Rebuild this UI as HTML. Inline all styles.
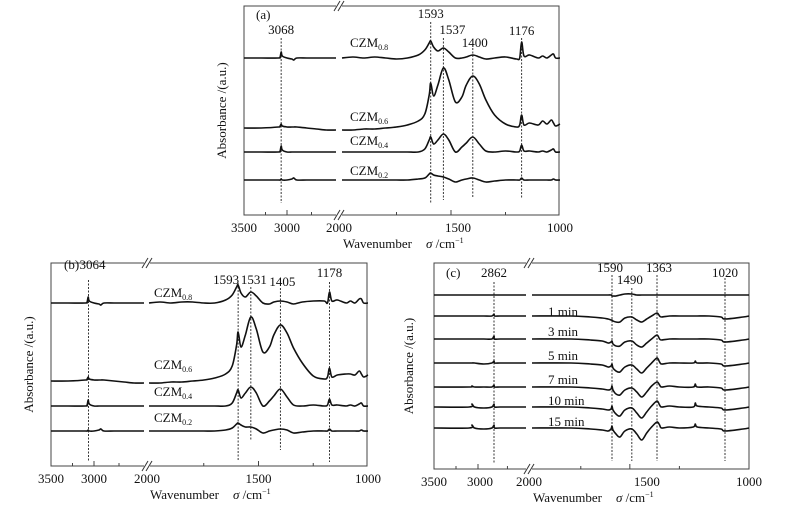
<!DOCTYPE html>
<html><head><meta charset="utf-8"><style>
html,body{margin:0;padding:0;background:#fff}
svg{display:block;font-family:"Liberation Serif",serif}
</style></head><body>
<svg id="fig" width="794" height="516" viewBox="0 0 794 516" xmlns="http://www.w3.org/2000/svg">
<rect width="794" height="516" fill="#fff"/>
</svg>
<script>
// ---------- data ----------
const gridR = [2000,1950,1900,1850,1800,1750,1700,1650,1620,1600,1593,1580,1560,1535,1510,1480,1450,1430,1400,1370,1340,1300,1250,1200,1185,1176,1165,1140,1100,1080,1060,1040,1030,1020,1000];
const gridL = [3500,3300,3100,3080,3068,3055,3000,2900,2862,2800,2600,2400,2200,2000];
const seriesNamesAB = ["0.8","0.6","0.4","0.2"];
const offsetsA = [157,85,63,35];
const a08 = [0,1,0,1,0,-1,0,3,8,15,17,11,7,10,6,0,0,1,3,1,-1,0,1,-1,0,16,2,3,0,2,0,3,4,0,0];
const a06 = [0,0,1,1,2,3,5,9,16,35,47,34,45,62,50,28,33,45,54,46,30,15,6,3,5,15,5,7,5,9,6,10,7,4,6];
const a04 = [0,0,0,0,0,0,0,0,3,12,15,8,12,18,12,0,5,9,15,8,1,0,1,0,1,7,1,1,0,1,0,2,3,0,0];
const a02 = [0,0,0,0,0,0,0,1,2,6,7,5,4,3,1,-2,0,1,2,0,-2,-1,0,0,0,2,0,0,0,0,0,0,1,0,0];
const a08L = [0,0,0,1,6,2,0,-1,-2,0,0,0,0,0];
const a06L = [2,2,3,4,6,4,3,3,3,3,2,1,0,0];
const a04L = [0,0,0,1,6,2,0,0,0,0,0,0,0,0];
const a02L = [0,0,0,0,1,0,0,1,2,0,0,0,0,0];
const peaksA = [3068,1593,1535,1400,1176];
const peakLabelsA = ["3068","1593","1537","1400","1176"];

const offsetsB = [163,83,60,35];
const b08 = [0,1,0,1,1,0,0,3,8,16,18,10,6,11,7,0,-1,1,2,1,-1,1,2,2,0,11,2,3,0,2,0,4,4,0,0];
const b06 = [0,0,1,1,2,3,5,9,17,38,51,36,48,66,54,31,36,48,58,50,35,20,7,4,6,15,6,8,9,9,8,12,9,6,8];
const b04 = [0,0,0,0,0,0,0,0,3,13,16,8,13,19,13,0,5,10,17,9,1,0,1,0,1,7,1,1,0,1,0,2,3,0,0];
const b02 = [0,0,0,0,0,0,0,1,3,7,8,6,4,4,2,-2,0,1,2,1,-2,-1,0,0,0,2,0,0,0,0,0,0,1,0,0];
const b08L = [0,0,0,1,6,2,0,-1,-2,0,0,0,0,0];
const b06L = [2,2,3,4,6,4,3,3,3,3,2,1,0,0];
const b04L = [0,0,0,1,6,2,0,0,0,0,0,0,0,0];
const b02L = [0,0,0,0,1,0,0,1,2,0,0,0,0,0];
const peaksB = [3064,1593,1535,1400,1176];
const peakLabelsB = ["3064","1593","1531","1405","1178"];

const gridRC = [2000,1800,1700,1640,1610,1595,1590,1585,1570,1550,1525,1490,1465,1440,1415,1390,1363,1350,1340,1300,1250,1180,1170,1160,1100,1040,1020,1005,1000];
const gridLC = [3500,3100,3068,3040,2950,2880,2862,2845,2700,2400,2000];
const timeLabels = ["","1 min","3 min","5 min","7 min","10 min","15 min"];
const offsetsC = [174,153,130,106,82,62,41];
const c00 = [0,0,0,0,0,0,-1,-1,-1,0,1,1,0,0,0,0,0,0,0,0,0,0,0,0,0,0,0,0,0];
const c01 = [0,0,-1,-2,-3,-4,-4,-5,-6,-6,-2,-1,-4,-6,-3,0,3,0,-1,0,0,0,0,0,0,-1,-3,-1,0];
const c03 = [0,0,-1,-2,-4,-3,-2,-5,-7,-7,-3,-2,-6,-8,-4,0,4,0,-1,0,0,0,0,0,0,-1,-3,-1,0];
const c05 = [0,0,-1,-2,-4,-3,-1,-5,-8,-9,-4,-2,-6,-10,-5,0,5,1,-1,0,0,0,2,0,0,-1,-3,-1,0];
const c07 = [0,0,-1,-2,-3,-2,1,-3,-7,-8,-3,-1,-5,-10,-5,1,5,2,0,1,0,0,3,0,0,-1,-3,-1,0];
const c10 = [0,0,-1,-2,-3,-2,1,-3,-7,-9,-3,-1,-6,-11,-5,1,6,2,0,1,0,0,4,1,0,-1,-3,-1,0];
const c15 = [0,0,-1,-2,-3,-1,2,-2,-6,-9,-3,-1,-6,-12,-5,1,6,3,0,1,0,1,4,1,0,-1,-3,-1,0];
const c00L = [0,0,0,0,0,0,0,0,0,0,0];
const c01L = [0,0,0,0,0,0,2,0,0,0,0];
const c03L = [0,0,0,0,0,0,3,0,0,0,0];
const c05L = [0,0,0,0,-1,0,2,0,0,0,0];
const c07L = [0,0,1,0,0,0,2,0,0,0,0];
const c10L = [0,0,3,0,-1,0,3,0,0,0,0];
const c15L = [0,0,3,0,-1,0,3,0,0,0,0];
const peaksC = [2862,1590,1490,1363,1020];
const peakLabelsC = ["2862","1590","1490","1363","1020"];

const majorTicks = [3500,3000,2000,1500,1000];
const majorTickLabels = ["3500","3000","2000","1500","1000"];
const minorTicks = [3250,2500,1750,1250];

// ---------- helpers ----------
const NS = "http://www.w3.org/2000/svg";
const svg = document.getElementById("fig");
function mk(tag, attrs, parent) {
  const e = document.createElementNS(NS, tag);
  for (const k in attrs) e.setAttribute(k, attrs[k]);
  (parent || svg).appendChild(e);
  return e;
}
function piece(anchors) {
  return function (w) {
    for (let i = 0; i < anchors.length - 1; i++) {
      const [w0, x0] = anchors[i], [w1, x1] = anchors[i + 1];
      if ((w <= w0 && w >= w1) || i === anchors.length - 2) return x0 + (w - w0) / (w1 - w0) * (x1 - x0);
    }
  };
}
function smoothPath(pts) {
  let d = "M" + pts[0][0].toFixed(1) + "," + pts[0][1].toFixed(1);
  const t = 0.5 / 3;
  for (let i = 0; i < pts.length - 1; i++) {
    const p0 = pts[i - 1] || pts[i], p1 = pts[i], p2 = pts[i + 1], p3 = pts[i + 2] || p2;
    const c1x = p1[0] + (p2[0] - p0[0]) * t, c1y = p1[1] + (p2[1] - p0[1]) * t;
    const c2x = p2[0] - (p3[0] - p1[0]) * t, c2y = p2[1] - (p3[1] - p1[1]) * t;
    d += "C" + c1x.toFixed(1) + "," + c1y.toFixed(1) + " " + c2x.toFixed(1) + "," + c2y.toFixed(1) + " " + p2[0].toFixed(1) + "," + p2[1].toFixed(1);
  }
  return d;
}

function panel(cfg) {
  const g = mk("g", {});
  
  
  const xL = piece(cfg.L), xR = piece(cfg.R);
  const xs = w => (w > 2000 ? xL(w) : (w === 2000 ? cfg.brk : xR(w)));
  const ys = v => cfg.bottom - v;
  const fr = mk("rect", {x: cfg.left, y: cfg.top, width: cfg.right - cfg.left, height: cfg.bottom - cfg.top, fill: "none", stroke: "#444", "stroke-width": 1}, g);
  
  
  [cfg.top, cfg.bottom].forEach(yy => {
    mk("rect", {x: cfg.brk - 3, y: yy - 2, width: 6, height: 4, fill: "#fff"}, g);
    [-2, 2].forEach(d => {
      const l = mk("line", {x1: cfg.brk + d - 3, y1: yy + 5, x2: cfg.brk + d + 3, y2: yy - 5, stroke: "#333", "stroke-width": 1}, g);
      
      
    });
  });
  majorTicks.forEach((t, i) => {
    const x = t === 2000 ? cfg.brk : xs(t);
    if (t !== 2000 && t !== 3500 && t !== 1000) mk("line", {x1: x, y1: cfg.bottom, x2: x, y2: cfg.bottom - 5, stroke: "#444"}, g);
    const tx = mk("text", {x: x + (cfg.tickDx[i] || 0), y: cfg.bottom + 17, "text-anchor": "middle", "font-size": 13, fill: "#111"}, g);
    tx.textContent = majorTickLabels[i];
    
    
  });
  minorTicks.forEach(t => {
    const x = xs(t);
    mk("line", {x1: x, y1: cfg.bottom, x2: x, y2: cfg.bottom - 3, stroke: "#444"}, g);
  });
  cfg.peaks.forEach((p, i) => {
    const x = xs(p);
    const l = mk("line", {x1: x, y1: cfg.peakTop[i], x2: x, y2: cfg.peakBot[i], stroke: "#222", "stroke-width": 0.9, "stroke-dasharray": "2,1.5"}, g);
    
    
    const t = mk("text", {x: x + cfg.peakDx[i], y: cfg.peakY[i], "text-anchor": "middle", "font-size": 13, fill: "#111"}, g);
    t.textContent = cfg.peakLabels[i];
    
    
  });
  cfg.series.forEach((s, k) => {
    const ptsL = cfg.gridL.map((w, i) => [xL(w), ys(cfg.offsets[k] + s.L[i])]);
    const ptsR = cfg.gridR.map((w, i) => [xR(w), ys(cfg.offsets[k] + s.R[i])]);
    [ptsL, ptsR].forEach(pts => {
      const p = mk("path", {d: smoothPath(pts), fill: "none", stroke: "#111", "stroke-width": 1.6, "stroke-linejoin": "round"}, g);
      
      
    });
  });
  cfg.labels.forEach(lb => {
    const t = mk("text", {x: lb.x, y: lb.y, "font-size": 13, fill: "#111"}, g);
    
    
    if (lb.sub) {
      t.appendChild(document.createTextNode("CZM"));
      const ts = mk("tspan", {"font-size": 8, dy: 3}, t);
      ts.textContent = lb.sub;
    } else t.textContent = lb.text;
  });
  const tag = mk("text", {x: cfg.tag[1], y: cfg.tag[2], "font-size": 13, fill: "#111"}, g);
  tag.textContent = cfg.tag[0];
  
  
  const cy = (cfg.top + cfg.bottom) / 2;
  const yt = mk("text", {x: cfg.yTitleX, y: cy, "font-size": 13, "text-anchor": "middle", transform: `rotate(-90 ${cfg.yTitleX} ${cy})`, fill: "#111"}, g);
  yt.textContent = "Absorbance /(a.u.)";
  
  
  const xt = mk("text", {x: cfg.xTitleX, y: cfg.bottom + 33, "font-size": 13, fill: "#111"}, g);
  xt.textContent = "Wavenumber";
  
  
  const xu = mk("text", {x: cfg.xTitleX + 83, y: cfg.bottom + 33, "font-size": 13, fill: "#111"}, g);
  const si = mk("tspan", {"font-style": "italic"}, xu); si.textContent = "σ";
  const un = mk("tspan", {}, xu); un.textContent = " /cm";
  const sup = mk("tspan", {"font-size": 8, dy: -5}, xu); sup.textContent = "−1";
  
  
}

panel({
  name: "panel-a", left: 244, right: 559, top: 6, bottom: 215, brk: 339,
  L: [[3500,244],[3000,287],[2000,336]], R: [[2000,342],[1000,560]],
  tickDx: [0,0,0,7,0], gridL: gridL, gridR: gridR, offsets: offsetsA,
  series: [{name:"czm-0.8",L:a08L,R:a08},{name:"czm-0.6",L:a06L,R:a06},{name:"czm-0.4",L:a04L,R:a04},{name:"czm-0.2",L:a02L,R:a02}],
  peaks: peaksA, peakLabels: peakLabelsA,
  peakTop: [38,22,38,48,38], peakBot: [203,203,200,198,199],
  peakDx: [0,0,9,2,0], peakY: [34,18,34,47,35],
  labels: [{x:350,y:47,sub:"0.8"},{x:350,y:121,sub:"0.6"},{x:350,y:145,sub:"0.4"},{x:350,y:175,sub:"0.2"}],
  tag: ["(a)",256,19], yTitleX: 226, xTitleX: 343
});
panel({
  name: "panel-b", left: 51, right: 367, top: 263, bottom: 466, brk: 147,
  L: [[3500,51],[3000,94],[2000,144]], R: [[2000,149],[1000,368]],
  tickDx: [0,0,0,0,0], gridL: gridL, gridR: gridR, offsets: offsetsB,
  series: [{name:"czm-0.8",L:b08L,R:b08},{name:"czm-0.6",L:b06L,R:b06},{name:"czm-0.4",L:b04L,R:b04},{name:"czm-0.2",L:b02L,R:b02}],
  peaks: peaksB, peakLabels: peakLabelsB,
  peakTop: [280,283,287,288,282], peakBot: [461,460,440,450,462],
  peakDx: [4,-12,3,2,0], peakY: [269,284,284,286,277],
  labels: [{x:154,y:297,sub:"0.8"},{x:154,y:369,sub:"0.6"},{x:154,y:396,sub:"0.4"},{x:154,y:422,sub:"0.2"}],
  tag: ["(b)",64,269], yTitleX: 33, xTitleX: 150
});
panel({
  name: "panel-c", left: 434, right: 749, top: 263, bottom: 469, brk: 529,
  L: [[3500,434],[3000,478],[2862,494],[2000,526]], R: [[2000,532],[1590,612],[1020,725],[1000,749]],
  tickDx: [0,2,0,17,0], gridL: gridLC, gridR: gridRC, offsets: offsetsC,
  series: [{name:"0-min",L:c00L,R:c00},{name:"1-min",L:c01L,R:c01},{name:"3-min",L:c03L,R:c03},{name:"5-min",L:c05L,R:c05},{name:"7-min",L:c07L,R:c07},{name:"10-min",L:c10L,R:c10},{name:"15-min",L:c15L,R:c15}],
  peaks: peaksC, peakLabels: peakLabelsC,
  peakTop: [282,275,288,275,278], peakBot: [463,461,461,461,461],
  peakDx: [0,-2,-2,2,0], peakY: [277,272,284,272,277],
  labels: timeLabels.slice(1).map((t,i)=>({x:548,y:[316,336,360,384,405,426][i],text:t})),
  tag: ["(c)",446,277], yTitleX: 413, xTitleX: 533
});
</script>
</body></html>
